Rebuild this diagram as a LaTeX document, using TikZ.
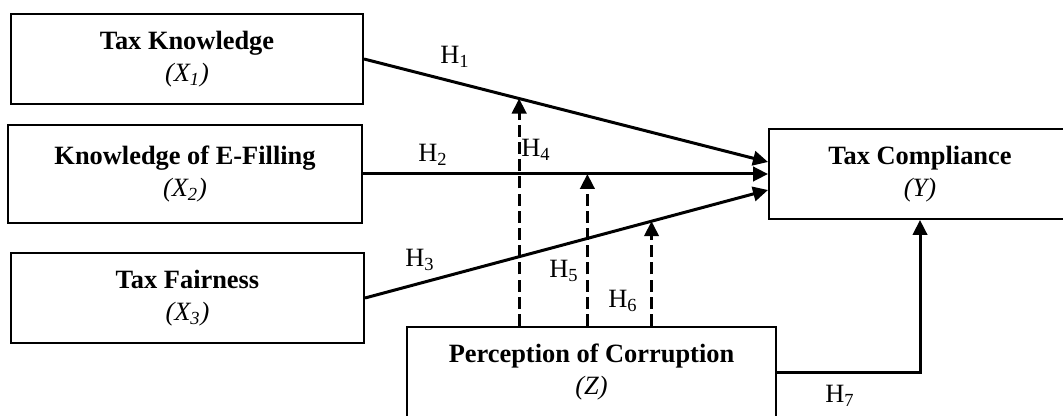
\documentclass[tikz,border=0pt]{standalone}
\usepackage{fontspec}
\setmainfont{Liberation Serif}
\usetikzlibrary{arrows.meta}

\begin{document}
\begin{tikzpicture}[x=0.5pt, y=-0.5pt,
  box/.style={draw, line width=1pt, align=center, inner sep=0pt, minimum height=45pt, font=\fontsize{13.2}{16}\selectfont},
  hyp/.style={inner sep=0pt, font=\fontsize{13.2}{16}\selectfont},
  link/.style={line width=1.5pt, -{Triangle[length=7.5pt,width=7.2pt]}},
  moder/.style={link, dash pattern=on 6pt off 2.6pt}]
\useasboundingbox (0,0) rectangle (1063,416);
\clip (0,0) rectangle (1063,416);

% variables
\node[box, minimum width=176pt] (x1) at (187,59) {\textbf{Tax Knowledge}\\\textit{(X\textsubscript{1})}};
\node[box, minimum width=177pt, minimum height=49pt] (x2) at (185,174) {\textbf{Knowledge of E-Filling}\\\textit{(X\textsubscript{2})}};
\node[box, minimum width=176.5pt] (x3) at (187.5,298) {\textbf{Tax Fairness}\\\textit{(X\textsubscript{3})}};
\node[box, minimum width=151pt] (y) at (920,174) {\textbf{Tax Compliance}\\\textit{(Y)}};
\node[box, minimum width=184.5pt] (z) at (591.5,372) {\textbf{Perception of Corruption}\\\textit{(Z)}};

% direct paths
\draw[link] (x1.east) -- coordinate[pos=.384] (m1) ([yshift=6pt]y.west);
\draw[link] (x2.east) -- coordinate[pos=.554] (m2) (y.west);
\draw[link] (x3.east) -- coordinate[pos=.711] (m3) ([yshift=-8pt]y.west);
\draw[link] (z.east) -| (y.south);

% moderation
\draw[moder] (m1 |- z.north) -- (m1);
\draw[moder] (m2 |- z.north) -- (m2);
\draw[moder] (m3 |- z.north) -- (m3);

% hypotheses
\node[hyp] (h1) at (455,57) {H\textsubscript{1}};
\node[hyp] (h2) at (433,155) {H\textsubscript{2}};
\node[hyp] (h3) at (420,260) {H\textsubscript{3}};
\node[hyp] (h4) at (536,150) {H\textsubscript{4}};
\node[hyp] (h5) at (564,271) {H\textsubscript{5}};
\node[hyp] (h6) at (623,301) {H\textsubscript{6}};
\node[hyp] (h7) at (840,396) {H\textsubscript{7}};
\end{tikzpicture}
\end{document}
